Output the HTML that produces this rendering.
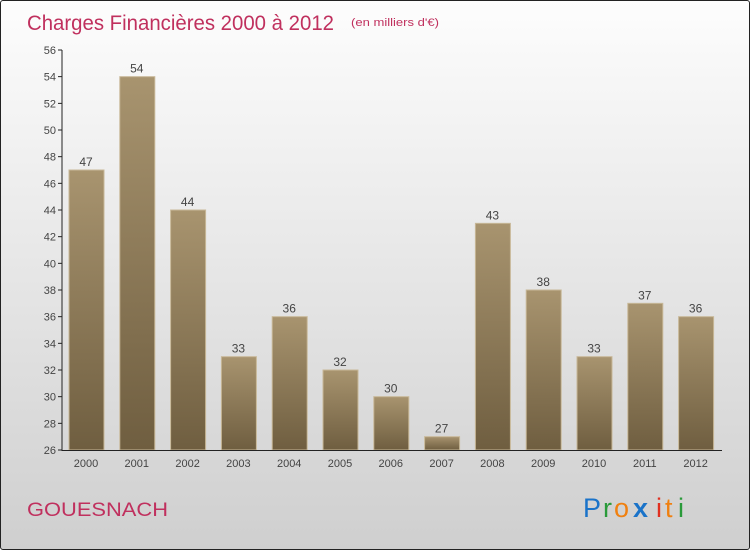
<!DOCTYPE html>
<html><head><meta charset="utf-8"><style>
body{margin:0}
#wrap{width:748px;height:548px;border:1px solid #222;background:linear-gradient(#fdfdfd,#cfcfcf);position:relative;font-family:"Liberation Sans",sans-serif;overflow:hidden;border-radius:3px}
</style></head><body>
<div id="wrap">
<svg width="748" height="548">
<defs><linearGradient id="bg" x1="0" y1="0" x2="0" y2="1"><stop offset="0" stop-color="#a8946f"/><stop offset="1" stop-color="#6f5e40"/></linearGradient></defs>
<text x="26" y="29" font-size="21" fill="#c0305e" textLength="307" lengthAdjust="spacingAndGlyphs">Charges Financières 2000 à 2012</text>
<text x="350" y="25" font-size="11" fill="#c0305e" textLength="88" lengthAdjust="spacingAndGlyphs">(en milliers d'€)</text>
<g id="g"></g>
<text x="26" y="515" font-size="19" fill="#c0305e" textLength="141" lengthAdjust="spacingAndGlyphs">GOUESNACH</text>
<g font-size="27">
<text x="582" y="516" fill="#1a73c9">P</text><text x="602" y="516" fill="#2a9a3a">r</text><text x="613" y="516" fill="#f08010">o</text><text x="632" y="516" fill="#1a73c9" font-weight="bold">x</text><text x="655" y="516" fill="#e03020">i</text><text x="664" y="516" fill="#f08010">t</text><text x="677" y="516" fill="#2a9a3a">i</text></g>
</svg></div>
<script>
const years=["2000","2001","2002","2003","2004","2005","2006","2007","2008","2009","2010","2011","2012"];
const values=[47,54,44,33,36,32,30,27,43,38,33,37,36];
const yTicks=[26,28,30,32,34,36,38,40,42,44,46,48,50,52,54,56];
const g=document.getElementById('g');const NS="http://www.w3.org/2000/svg";
const y=v=>449-(v-26)*400/30;const x=i=>85+50.8*i;
function mk(t,a,p){const e=document.createElementNS(NS,t);for(const k in a)e.setAttribute(k,a[k]);(p||g).appendChild(e);return e;}
yTicks.forEach(v=>{mk('line',{x1:57,x2:61,y1:y(v),y2:y(v),stroke:'#222'});
const t=mk('text',{x:55,y:y(v)+4,'font-size':11,fill:'#444','text-anchor':'end'});t.textContent=v;

});
years.forEach((yr,i)=>{const r=mk('rect',{x:x(i)-17,y:y(values[i]),width:35,height:449-y(values[i]),fill:'url(#bg)',stroke:'#c8b898','stroke-width':1});


const l=mk('text',{x:x(i),y:y(values[i])-4,'font-size':12,fill:'#444','text-anchor':'middle'});l.textContent=values[i];


const xl=mk('text',{x:x(i),y:466,'font-size':11,fill:'#444','text-anchor':'middle'});xl.textContent=yr;

});
mk('line',{x1:61,x2:61,y1:49,y2:450,stroke:'#222'});
mk('line',{x1:61,x2:721,y1:449.5,y2:449.5,stroke:'#222'});
</script></body></html>
